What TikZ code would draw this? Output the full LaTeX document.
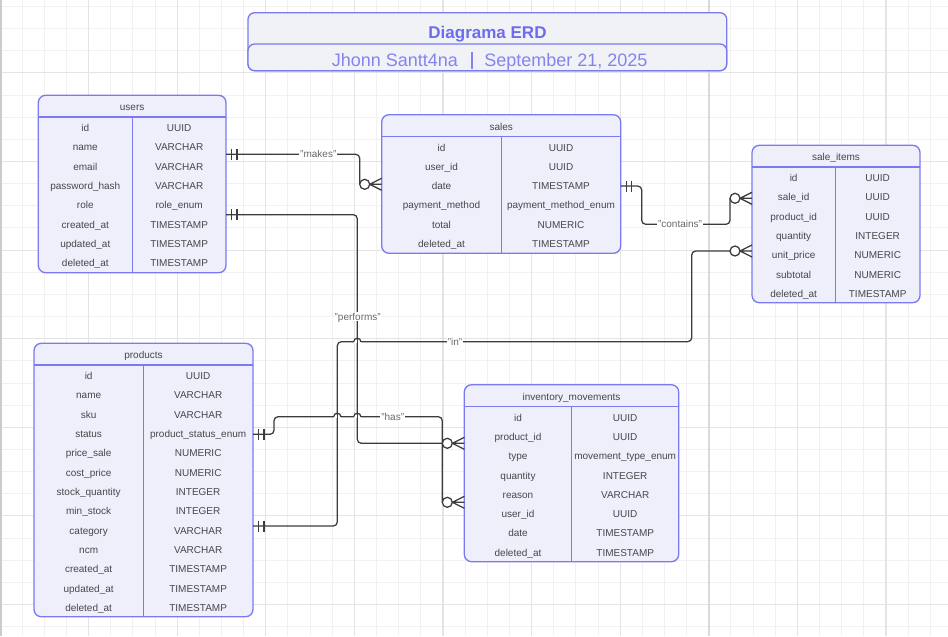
\documentclass[tikz,border=0pt]{standalone}
\usepackage{fontspec}
\setmainfont{Liberation Sans}
\definecolor{erdborder}{RGB}{122,122,242}
\definecolor{erdfill}{RGB}{239,239,252}
\definecolor{titlefill}{RGB}{241,242,245}
\definecolor{titlecol}{RGB}{108,108,238}
\definecolor{subcol}{RGB}{132,132,240}
\definecolor{erdtext}{RGB}{70,70,74}
\definecolor{conncol}{RGB}{60,60,60}
\definecolor{lblcol}{RGB}{105,105,105}
\definecolor{gridminor}{RGB}{241,241,241}
\definecolor{gridmajor}{RGB}{228,228,228}
\newcommand{\erdtable}[8]{%
  \draw[tblbox] (#2,#3) rectangle (#4,#5);
  \draw[tblline] (#2,#3+21.7) -- (#4,#3+21.7);
  \draw[tblline] (#6,#3+21.7) -- (#6,#5);
  \node[tbltext] (#1-title) at ({(#2+#4)/2},#3+12) {#7};
  \foreach \fa/\fb [count=\i] in {#8} {
    \node[tbltext] (#1-f\i) at ({(#2+#6)/2},{#3+21.7+11+(\i-1)*19.33}) {\fa};
    \node[tbltext] (#1-t\i) at ({(#6+#4)/2},{#3+21.7+11+(\i-1)*19.33}) {\fb};
  }
}
\newcommand{\crowfoot}[1]{%
  \draw[conn,fill=white] (#1) ++(-17,0) circle[radius=3.75pt];
  \draw[conn] (#1) ++(-12,0) -- ++(12,-6) (#1) ++(-12,0) -- ++(12,0) (#1) ++(-12,0) -- ++(12,6);
}
\newcommand{\onebar}[1]{%
  \draw[conn] (#1) ++(5.5,-5.5) -- ++(0,11) (#1) ++(11,-5.5) -- ++(0,11);
}
\newcommand{\hop}[2]{%
  \fill[white] (#1-3.6,#2-1.6) rectangle (#1+3.6,#2+1.6);
  \draw[conn] (#1,#2-4.5) -- (#1,#2+4.5);
  \draw[conn] (#1-3.6,#2) .. controls (#1-3.6,#2-4.6) and (#1+3.6,#2-4.6) .. (#1+3.6,#2);
}
\begin{document}
\begin{tikzpicture}[x=0.75pt,y=-0.75pt,
  tblbox/.style={draw=erdborder,fill=erdfill,line width=1pt,rounded corners=5.5pt},
  tblline/.style={draw=erdborder,line width=1pt},
  titlebox/.style={draw=erdborder,fill=titlefill,line width=1pt,rounded corners=5pt},
  tbltext/.style={inner sep=0pt,text height=5.4pt,text depth=0pt,font=\fontsize{7.5pt}{9pt}\selectfont,text=erdtext},
  lbl/.style={fill=white,inner sep=0.8pt,text height=5.4pt,text depth=0pt,font=\fontsize{7.5pt}{9pt}\selectfont,text=lblcol},
  conn/.style={draw=conncol,line width=0.95pt},
  gmin/.style={draw=gridminor,line width=0.75pt},
  gmaj/.style={draw=gridmajor,line width=0.8pt}]
\useasboundingbox (0,0) rectangle (948,636);
\fill[white] (0,0) rectangle (948,636);
% grid
\foreach \i in {0,...,42} \draw[gmin] ({\i*22.15},0) -- ({\i*22.15},636);
\foreach \i in {0,...,28} \draw[gmin] (0,{6.45+\i*22.15}) -- (948,{6.45+\i*22.15});
\foreach \i in {0,...,10} \draw[gmaj] ({\i*88.6},0) -- ({\i*88.6},636);
\foreach \i in {0,...,6} \draw[gmaj] (0,{72.9+\i*88.6}) -- (948,{72.9+\i*88.6});
\draw[draw={rgb,255:red,200;green,204;blue,209},line width=1.5pt] (1,0) -- (1,636);
\draw[draw={rgb,255:red,218;green,218;blue,218},line width=1.5pt] (709,0) -- (709,636);
% title
\draw[titlebox] (248,12.7) rectangle (726.7,70.7);
\draw[titlebox] (248,44) rectangle (726.7,70.7);
\node[inner sep=0pt,text height=9pt,text depth=0pt,font=\fontsize{12.75pt}{15pt}\selectfont\bfseries,text=titlecol] (title) at (487.5,32.3) {Diagrama ERD};
\node[anchor=east,inner sep=0pt,text height=9.6pt,text depth=0pt,font=\fontsize{13.5pt}{16pt}\selectfont,text=subcol] (author) at (458.3,60) {Jhonn Santt4na};
\node[anchor=west,inner sep=0pt,text height=9.6pt,text depth=0pt,font=\fontsize{13.5pt}{16pt}\selectfont,text=subcol] (date) at (484,60) {September 21, 2025};
\draw[draw=subcol,line width=1.3pt] (471.7,51.5) -- (471.7,68.5);
% tables
\erdtable{users}{38.3}{95.3}{226}{272.7}{132.3}{users}{id/UUID, name/VARCHAR, email/VARCHAR, password\_hash/VARCHAR, role/role\_enum, created\_at/TIMESTAMP, updated\_at/TIMESTAMP, deleted\_at/TIMESTAMP}
\erdtable{sales}{381.7}{114.7}{620.7}{253.3}{501.3}{sales}{id/UUID, user\_id/UUID, date/TIMESTAMP, payment\_method/payment\_method\_enum, total/NUMERIC, deleted\_at/TIMESTAMP}
\erdtable{items}{752}{145.3}{920}{302.7}{835.3}{sale\_items}{id/UUID, sale\_id/UUID, product\_id/UUID, quantity/INTEGER, unit\_price/NUMERIC, subtotal/NUMERIC, deleted\_at/TIMESTAMP}
\erdtable{products}{34}{343.3}{253}{616.7}{143.3}{products}{id/UUID, name/VARCHAR, sku/VARCHAR, status/product\_status\_enum, price\_sale/NUMERIC, cost\_price/NUMERIC, stock\_quantity/INTEGER, min\_stock/INTEGER, category/VARCHAR, ncm/VARCHAR, created\_at/TIMESTAMP, updated\_at/TIMESTAMP, deleted\_at/TIMESTAMP}
\erdtable{inv}{464.3}{384.7}{678.7}{561.7}{571.7}{inventory\_movements}{id/UUID, product\_id/UUID, type/movement\_type\_enum, quantity/INTEGER, reason/VARCHAR, user\_id/UUID, date/TIMESTAMP, deleted\_at/TIMESTAMP}
% connector end points
\coordinate (u-makes) at (226,154.3);
\coordinate (s-makes) at (381.7,184.3);
\coordinate (u-perf) at (226,214.7);
\coordinate (i-perf) at (464.3,443.3);
\coordinate (p-has) at (253,434.3);
\coordinate (i-has) at (464.3,502.3);
\coordinate (p-in) at (253,526);
\coordinate (si-in) at (752,251);
\coordinate (s-cont) at (620.7,186);
\coordinate (si-cont) at (752,198.3);
% connectors
\draw[conn,rounded corners=3pt] (u-makes) -| ([xshift=-16.5pt]s-makes);
\draw[conn,rounded corners=3pt] (u-perf) -- (357.3,214.7) -- (357.3,443.3) -- ([xshift=-16.5pt]i-perf);
\draw[conn,rounded corners=3pt] (p-has) -- (274,434.3) -- (274,416.7) -- (442.3,416.7) -- ([xshift=-16.5pt]i-has);
\draw[conn,rounded corners=3pt] (p-in) -- (337.3,526) -- (337.3,341.7) -- (691.7,341.7) -- (691.7,251) -- ([xshift=-16.5pt]si-in);
\draw[conn,rounded corners=3pt] (s-cont) -- (641.7,186) -- (641.7,224.3) -- (730,224.3) -- ([xshift=-16.5pt]si-cont);
\hop{337.3}{416.7}
\hop{357.3}{416.7}
\hop{357.3}{341.7}
% ends
\onebar{u-makes}
\onebar{u-perf}
\onebar{p-has}
\onebar{p-in}
\onebar{s-cont}
\crowfoot{s-makes}
\crowfoot{i-perf}
\crowfoot{i-has}
\crowfoot{si-in}
\crowfoot{si-cont}
% labels
\node[lbl] (l-makes) at (318.3,154.3) {"makes"};
\node[lbl] (l-perf) at (357.7,316.7) {"performs"};
\node[lbl] (l-has) at (392.7,416.7) {"has"};
\node[lbl] (l-in) at (455,341.7) {"in"};
\node[lbl] (l-cont) at (680,224.3) {"contains"};
\end{tikzpicture}
\end{document}
